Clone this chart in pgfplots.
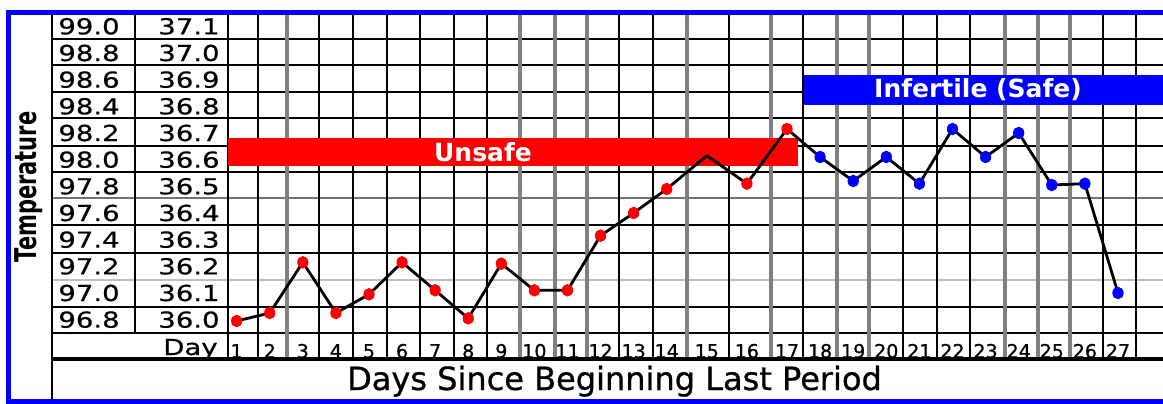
\documentclass[border=0pt]{standalone}
\usepackage{fontspec}
\setmainfont{DejaVu Sans}
\newfontfamily\cf[FakeStretch=1.25,FakeBold=0.6]{DejaVu Sans}
\newfontfamily\ff[FakeBold=0.8]{DejaVu Sans}
\newfontfamily\tf[FakeStretch=0.7]{DejaVu Sans}
\usepackage{pgfplots}
\pgfplotsset{compat=1.18}
\usepackage{pgfplotstable}

\pgfplotstableread{
day temp cls
1 96.79 r
2 96.85 r
3 97.23 r
4 96.85 r
5 96.99 r
6 97.23 r
7 97.02 r
8 96.81 r
9 97.22 r
10 97.02 r
11 97.02 r
12 97.43 r
13 97.60 r
14 97.78 r
15 98.03 n
16 97.82 r
17 98.23 r
18 98.02 b
19 97.84 b
20 98.02 b
21 97.82 b
22 98.23 b
23 98.02 b
24 98.20 b
25 97.81 b
26 97.82 b
27 97.00 b
}\bbt

\begin{document}
\begin{tikzpicture}
% ---------- frame: grid, bars, texts (pixel units, y downwards) ----------
\begin{axis}[at={(0,0)}, anchor=south west, scale only axis,
  width=581.5pt, height=201.5pt,
  xmin=0, xmax=1163, ymin=0, ymax=403, y dir=reverse,
  hide axis, clip=false]
  % horizontal lines
  \pgfplotsinvokeforeach{39,65,92,118,146,172,225,253,307,333}{
    \draw[black, line width=1.1pt] (52,#1) -- (1163,#1);}
  \draw[black!55, line width=1.4pt] (52,198) -- (1163,198);
  \draw[black!25, line width=0.9pt] (52,280) -- (1163,280);
  % vertical grid lines
  \pgfplotsinvokeforeach{228,258,319,353,387,420,454,487,619,653,729,803,903,937,970,1103,1136}{
    \draw[black, line width=1.1pt] (#1,13) -- (#1,359);}
  \pgfplotsinvokeforeach{287,520,555,587,687,771,837,869,1005,1038,1070}{
    \draw[black!50, line width=1.6pt] (#1,13) -- (#1,359);}
  \draw[black, line width=1.1pt] (135,13) -- (135,333);
  \draw[black, line width=1.7pt] (52,359) -- (1163,359);
  \draw[black, line width=1.4pt] (52,13) -- (52,401);
  \draw[black, line width=1.1pt] (52,13) -- (1163,13);
  % zones
  \fill[red] (228,138) rectangle (798,166);
  \fill[blue] (804,75) rectangle (1163,105);
  \node[white, font=\bfseries\fontsize{12.5}{13}\selectfont] at (483,152) {Unsafe};
  \node[white, font=\bfseries\fontsize{12.5}{13}\selectfont] at (978,90) {Infertile (Safe)};
  % labels
  \node[anchor=base east, inner sep=0pt, font=\cf\fontsize{11}{12}\selectfont] at (218,355) {Day};
  \node[rotate=90, inner sep=0pt, font=\tf\bfseries\fontsize{15}{16}\selectfont] at (29,187) {Temperature};
  \node[anchor=base, inner sep=0pt, font=\ff\fontsize{16}{17}\selectfont] at (614.5,390) {Days Since Beginning Last Period};
  % blue border
  \draw[blue, line width=2.5pt] (1170,12) -- (8,12) -- (8,401) -- (1170,401);
\end{axis}
% ---------- data axis: day vs temperature (F) ----------
\begin{axis}[at={(0,0)}, anchor=south west, scale only axis,
  width=581.5pt, height=201.5pt,
  x coord trafo/.code={\pgfmathparse{(#1<=14)*(203.6+33.08*(#1)) + (#1>14)*(#1<=17)*(666.7+40.1*((#1)-14)) + (#1>17)*(787+33.1*((#1)-17))}},
  xmin=-6.1548, xmax=28.3595, ymin=96.175, ymax=99.1975,
  axis line style={draw=none}, tick style={draw=none},
  xtick={1,2,3,4,5,6,7,8,9,10,11,12,13,14,15,16,17,18,19,20,21,22,23,24,25,26,27},
  xticklabels={1,2,3,4,5,6,7,8,9,10,11,12,13,14,15,16,17,18,19,20,21,22,23,24,25,26,27},
  xticklabel style={anchor=base, inner sep=0pt, yshift=22.5pt, font=\ff\fontsize{9.5}{10}\selectfont},
  ytick={96.8,97.0,97.2,97.4,97.6,97.8,98.0,98.2,98.4,98.6,98.8,99.0},
  yticklabels={96.8,97.0,97.2,97.4,97.6,97.8,98.0,98.2,98.4,98.6,98.8,99.0},
  yticklabel style={anchor=west, inner sep=0pt, xshift=29pt, font=\cf\fontsize{11}{12}\selectfont},
  extra y ticks={96.8,97.0,97.2,97.4,97.6,97.8,98.0,98.2,98.4,98.6,98.8,99.0},
  extra y tick labels={36.0,36.1,36.2,36.3,36.4,36.5,36.6,36.7,36.8,36.9,37.0,37.1},
  extra y tick style={yticklabel style={anchor=east, xshift=81pt}},
  ]
  \addplot[black, line width=1.4pt, line join=round, mark=none] table[x=day, y=temp] {\bbt};
  \addplot[scatter, only marks, mark=*, mark size=2.6pt,
    mark options={yscale=1.12},
    point meta=explicit symbolic,
    scatter/classes={r={red}, b={blue}, n={opacity=0}}]
    table[x=day, y=temp, meta=cls] {\bbt};
\end{axis}
\pgfresetboundingbox
\path[use as bounding box] (0,0) rectangle (581.5pt,201.5pt);
\end{tikzpicture}
\end{document}
